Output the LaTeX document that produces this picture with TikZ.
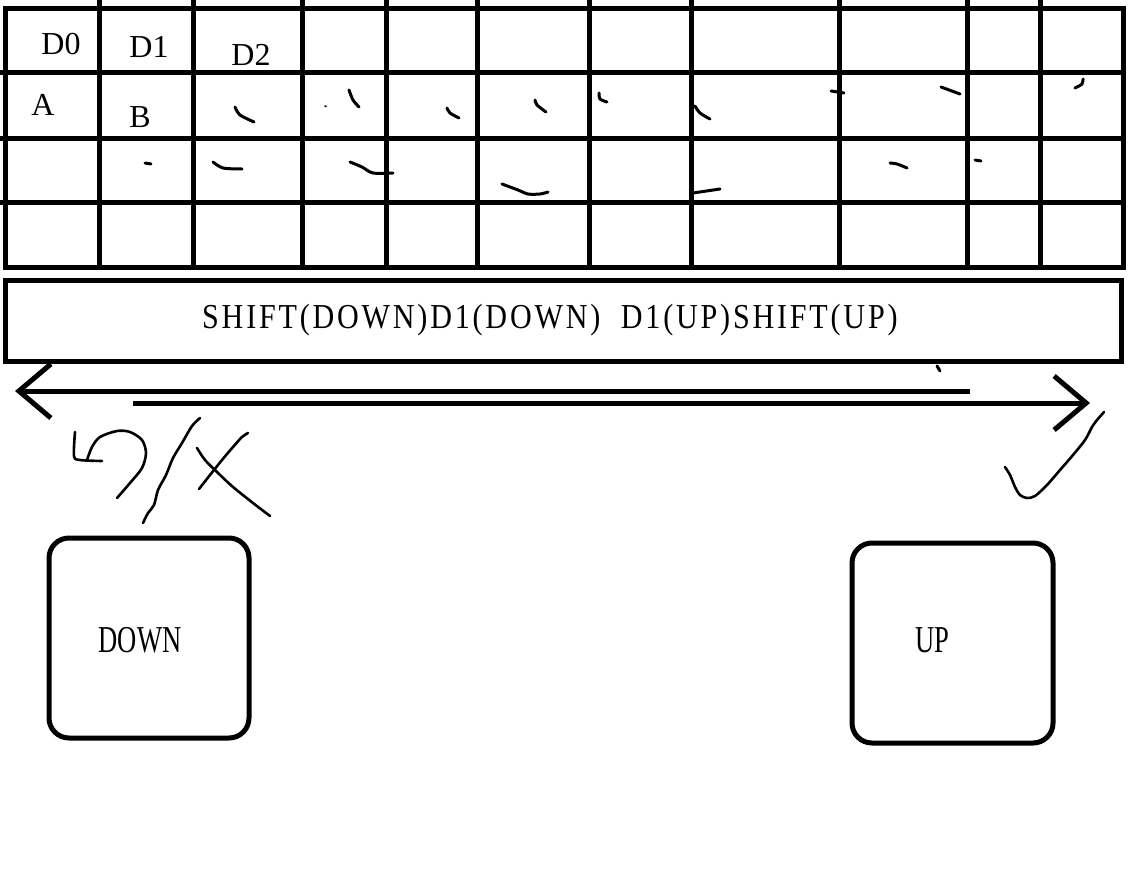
\documentclass[tikz,border=0pt]{standalone}
\usepackage{fontspec}
\setmainfont{Liberation Serif}
\newfontfamily\narrowfont[FakeStretch=0.7]{Liberation Serif}
\newfontfamily\barfont[FakeStretch=0.86,LetterSpace=8]{Liberation Serif}
\usepackage{tikz}
\usetikzlibrary{arrows.meta}
\usetikzlibrary{positioning}

\begin{document}
\begin{tikzpicture}[
      x=1pt, y=-1pt,
      >={Straight Barb[length=32pt,width=54pt]},
      gridline/.style={line width=5pt},
      cellmark/.style={line width=3pt,line cap=round,line join=round},
      hand/.style={line width=2.6pt,line cap=round,line join=round},
      cellname/.style={font=\fontsize{32}{34}\selectfont,inner sep=0pt},
      keybox/.style={draw,line width=5pt,rounded corners=20pt,
                     minimum width=200pt,minimum height=200pt,inner sep=0pt},
      keylabel/.style={font=\narrowfont\fontsize{38}{40}\selectfont,inner sep=0pt},
      swipe/.style={->,line width=5pt}
    ]
    \useasboundingbox[fill=white] (0,0) rectangle (1131,888);

    % Key table grid
    \draw[gridline] (5,9) rectangle (1123,267);
    \foreach \y in {73,138,202}
      \draw[gridline] (0,\y) -- (1123,\y);
    \foreach \x in {99,193,302,386,477,589,691,839,967,1040}
      \draw[gridline] (\x,0) -- (\x,270);

    % Column and row names
    \node[cellname] (dzero) at (61,44) {D0};
    \node[cellname] (done) at (149,47) {D1};
    \node[cellname] (dtwo) at (251,55) {D2};
    \node[cellname] (rowa) at (43,105) {A};
    \node[cellname] (rowb) at (140,117) {B};

    % Pen marks in the cells
    \draw[cellmark] plot[smooth] coordinates {(235,107) (240,115) (254,122)};
    \draw[cellmark,line width=1.6pt] (325,106) -- (326,106.5);
    \draw[cellmark] plot[smooth] coordinates {(349,90) (353,100) (359,107)};
    \draw[cellmark] (145,163) -- (151,164);
    \draw[cellmark] plot[smooth] coordinates {(213,162) (223,168) (242,169)};
    \draw[cellmark] plot[smooth] coordinates {(350,162) (362,167) (373,173) (393,173)};
    \draw[cellmark] plot[smooth] coordinates {(447,108) (450,113) (459,118)};
    \draw[cellmark] plot[smooth] coordinates {(535,100) (537,105) (546,112)};
    \draw[cellmark] plot[smooth] coordinates {(599,93) (600,99) (607,102)};
    \draw[cellmark] plot[smooth] coordinates {(695,106) (700,113) (710,119)};
    \draw[cellmark] plot[smooth] coordinates {(502,184) (518,190) (528,194) (540,194) (548,192)};
    \draw[cellmark] (693,193) -- (720,189);
    \draw[cellmark] (831,91) -- (844,93);
    \draw[cellmark] (941,87) -- (960,94);
    \draw[cellmark] plot[smooth] coordinates {(1075,88) (1082,84) (1083,79)};
    \draw[cellmark] plot[smooth] coordinates {(890,163) (897,164) (907,168)};
    \draw[cellmark] (975,160) -- (981,161);

    % Key sequence bar
    \node[draw,line width=5pt,minimum width=1116pt,minimum height=81pt,
          inner sep=0pt] (bar) at (563,320.5) {};
    \node[font=\barfont\fontsize{35}{38}\selectfont,anchor=base west,
          inner sep=0pt] (bartext) at (202,328)
          {SHIFT(DOWN)D1(DOWN)\ \ D1(UP)SHIFT(UP)};
    \draw[cellmark] (937,366) -- (940,371);

    % Press and release arrows
    \coordinate (lefttail) at (970,391);
    \coordinate (lefttip) at (15,391);
    \coordinate (righttail) at (133,403);
    \coordinate (righttip) at (1090,403);
    \draw[swipe] (lefttail) -- (lefttip);
    \draw[swipe] (righttail) -- (righttip);

    % Handwritten marks
    \draw[hand] plot[smooth] coordinates {(75,432) (74,456) (80,460) (102,461)};
    \draw[hand] plot[smooth] coordinates {(87,460) (92,447) (100,437) (117,431)
          (130,432) (142,440) (146,453) (142,468) (130,483) (117,498)};
    \draw[hand] plot[smooth] coordinates {(200,418) (192,426) (182,443) (173,458)
          (166,475) (158,490) (154,505) (148,513) (143,523)};
    \draw[hand] plot[smooth] coordinates {(248,433) (242,437) (233,447) (222,460)
          (210,475) (199,489)};
    \draw[hand] plot[smooth] coordinates {(197,448) (205,460) (217,472) (233,487)
          (253,503) (270,516)};
    \draw[hand] plot[smooth] coordinates {(1005,467) (1010,475) (1015,487) (1020,495)
          (1027,498) (1035,496) (1047,485) (1060,470) (1073,455) (1085,440)
          (1092,427) (1097,420) (1104,412)};

    % Keys
    \node[keybox] (downkey) at (149,638) {};
    \node[keylabel] (downtext) at (140,640.5) {DOWN};
    \node[keybox,minimum width=201pt] (upkey) at (952.5,643) {};
    \node[keylabel] (uptext) at (932.5,640.5) {UP};

  \end{tikzpicture}
\end{document}
